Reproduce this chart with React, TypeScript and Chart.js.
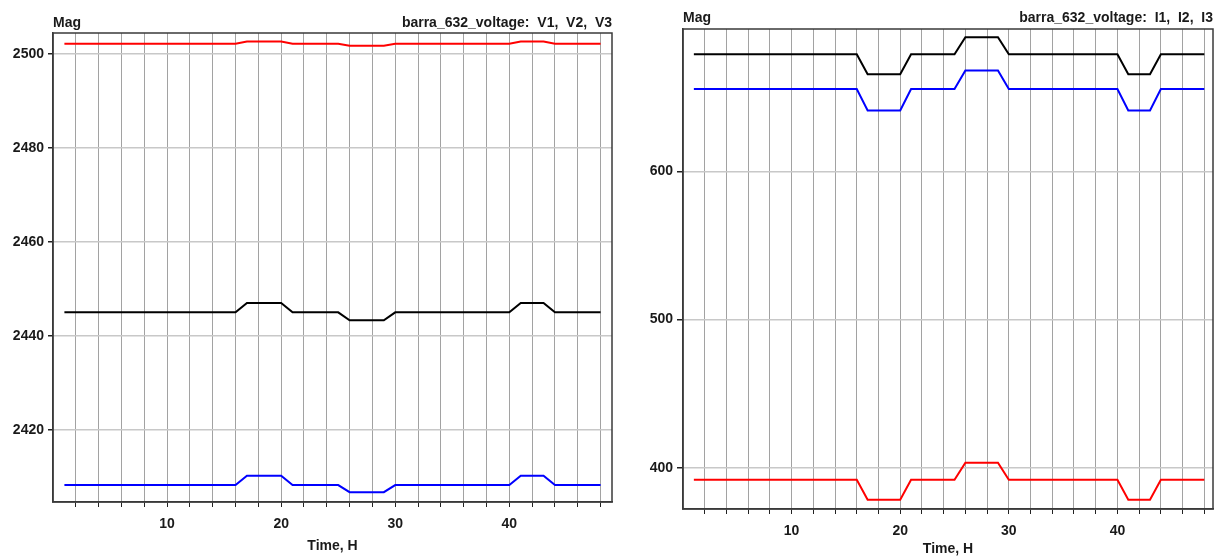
import React, { useEffect, useRef } from 'react';
import { Chart, registerables } from 'chart.js';

Chart.register(...registerables);

const hours = [1, 2, 3, 4, 5, 6, 7, 8, 9, 10, 11, 12, 13, 14, 15, 16, 17, 18, 19, 20, 21, 22, 23, 24, 25, 26, 27, 28, 29, 30, 31, 32, 33, 34, 35, 36, 37, 38, 39, 40, 41, 42, 43, 44, 45, 46, 47, 48];

// Left chart: voltages
const v1 = [2502.2, 2502.2, 2502.2, 2502.2, 2502.2, 2502.2, 2502.2, 2502.2, 2502.2, 2502.2, 2502.2, 2502.2, 2502.2, 2502.2, 2502.2, 2502.2,
  2502.7, 2502.7, 2502.7, 2502.7,
  2502.2, 2502.2, 2502.2, 2502.2, 2502.2,
  2501.8, 2501.8, 2501.8, 2501.8,
  2502.2, 2502.2, 2502.2, 2502.2, 2502.2, 2502.2, 2502.2, 2502.2, 2502.2, 2502.2, 2502.2,
  2502.7, 2502.7, 2502.7,
  2502.2, 2502.2, 2502.2, 2502.2, 2502.2];
const v2 = [2445, 2445, 2445, 2445, 2445, 2445, 2445, 2445, 2445, 2445, 2445, 2445, 2445, 2445, 2445, 2445,
  2447, 2447, 2447, 2447,
  2445, 2445, 2445, 2445, 2445,
  2443.3, 2443.3, 2443.3, 2443.3,
  2445, 2445, 2445, 2445, 2445, 2445, 2445, 2445, 2445, 2445, 2445,
  2447, 2447, 2447,
  2445, 2445, 2445, 2445, 2445];
const v3 = [2408.2, 2408.2, 2408.2, 2408.2, 2408.2, 2408.2, 2408.2, 2408.2, 2408.2, 2408.2, 2408.2, 2408.2, 2408.2, 2408.2, 2408.2, 2408.2,
  2410.2, 2410.2, 2410.2, 2410.2,
  2408.2, 2408.2, 2408.2, 2408.2, 2408.2,
  2406.7, 2406.7, 2406.7, 2406.7,
  2408.2, 2408.2, 2408.2, 2408.2, 2408.2, 2408.2, 2408.2, 2408.2, 2408.2, 2408.2, 2408.2,
  2410.2, 2410.2, 2410.2,
  2408.2, 2408.2, 2408.2, 2408.2, 2408.2];

// Right chart: currents
const i1 = [679, 679, 679, 679, 679, 679, 679, 679, 679, 679, 679, 679, 679, 679, 679, 679,
  665.5, 665.5, 665.5, 665.5,
  679, 679, 679, 679, 679,
  690.5, 690.5, 690.5, 690.5,
  679, 679, 679, 679, 679, 679, 679, 679, 679, 679, 679,
  665.5, 665.5, 665.5,
  679, 679, 679, 679, 679];
const i2 = [655.5, 655.5, 655.5, 655.5, 655.5, 655.5, 655.5, 655.5, 655.5, 655.5, 655.5, 655.5, 655.5, 655.5, 655.5, 655.5,
  641, 641, 641, 641,
  655.5, 655.5, 655.5, 655.5, 655.5,
  668, 668, 668, 668,
  655.5, 655.5, 655.5, 655.5, 655.5, 655.5, 655.5, 655.5, 655.5, 655.5, 655.5,
  641, 641, 641,
  655.5, 655.5, 655.5, 655.5, 655.5];
const i3 = [392, 392, 392, 392, 392, 392, 392, 392, 392, 392, 392, 392, 392, 392, 392, 392,
  378.5, 378.5, 378.5, 378.5,
  392, 392, 392, 392, 392,
  403.5, 403.5, 403.5, 403.5,
  392, 392, 392, 392, 392, 392, 392, 392, 392, 392, 392,
  378.5, 378.5, 378.5,
  392, 392, 392, 392, 392];

const xGridTicks = [2, 4, 6, 8, 10, 12, 14, 16, 18, 20, 22, 24, 26, 28, 30, 32, 34, 36, 38, 40, 42, 44, 46, 48];
const xLabelTicks = [10, 20, 30, 40];
const leftYTicks = [2420, 2440, 2460, 2480, 2500];
const rightYTicks = [400, 500, 600];

const FONT = '"Liberation Sans", Arial, sans-serif';
const FSIZE = 14;

const framePlugin = {
  id: 'frame',
  afterDraw(chart: any, _args: any, opts: any) {
    const { ctx, chartArea: a } = chart;
    ctx.save();
    ctx.strokeStyle = '#3a3a3a';
    ctx.lineWidth = 1.5;
    ctx.strokeRect(a.left, a.top, a.right - a.left, a.bottom - a.top);
    ctx.font = 'bold ' + FSIZE + 'px ' + FONT;
    ctx.fillStyle = '#1a1a1a';
    ctx.textBaseline = 'middle';
    ctx.textAlign = 'left';
    ctx.fillText(opts.mag, a.left, opts.headY);
    ctx.textAlign = 'right';
    ctx.fillText(opts.head, a.right + opts.headDx, opts.headY);
    ctx.restore();
  },
};

type Cfg = {
  series: { data: number[]; color: string }[];
  yMin: number;
  yMax: number;
  yTicks: number[];
  xMax: number;
  padTop: number;
  padRight: number;
  yWidth: number;
  xHeight: number;
  yTickLen: number;
  titleBottom: number;
  head: string;
  headY: number;
  headDx: number;
};

function makeChart(canvas: HTMLCanvasElement, c: Cfg) {
  return new Chart(canvas, {
    type: 'line',
    data: {
      datasets: c.series.map((s) => ({
        data: hours.map((h, i) => ({ x: h, y: s.data[i] })),
        borderColor: s.color,
        borderWidth: 2,
        pointRadius: 0,
        tension: 0,
        fill: false,
      })),
    },
    options: {
      animation: false,
      responsive: false,
      maintainAspectRatio: false,
      events: [],
      layout: { padding: { top: c.padTop, right: c.padRight, left: 0, bottom: 0 } },
      plugins: {
        legend: { display: false },
        tooltip: { enabled: false },
        frame: { mag: 'Mag', head: c.head, headY: c.headY, headDx: c.headDx },
      } as any,
      scales: {
        x: {
          type: 'linear',
          min: 0,
          max: c.xMax,
          afterBuildTicks: (scale: any) => {
            scale.ticks = xGridTicks.map((v) => ({ value: v }));
          },
          afterFit: (scale: any) => {
            scale.height = c.xHeight;
          },
          ticks: {
            autoSkip: false,
            maxRotation: 0,
            padding: 9,
            color: '#1a1a1a',
            font: { family: FONT, size: FSIZE, weight: 'bold' },
            callback: (v: any) => (xLabelTicks.includes(Number(v)) ? String(v) : ''),
          },
          grid: {
            color: '#a2a2a2',
            lineWidth: 1,
            tickColor: '#222',
            tickLength: 5,
          },
          border: { color: '#3a3a3a', width: 1.5 },
          title: {
            display: true,
            text: 'Time, H',
            color: '#1a1a1a',
            font: { family: FONT, size: FSIZE, weight: 'bold' },
            padding: { top: 2, bottom: c.titleBottom },
          },
        },
        y: {
          type: 'linear',
          min: c.yMin,
          max: c.yMax,
          afterBuildTicks: (scale: any) => {
            scale.ticks = c.yTicks.map((v) => ({ value: v }));
          },
          afterFit: (scale: any) => {
            scale.width = c.yWidth;
          },
          ticks: {
            padding: 4,
            color: '#1a1a1a',
            font: { family: FONT, size: FSIZE, weight: 'bold' },
            callback: (v: any) => String(v),
          },
          grid: {
            color: '#c8c8c8',
            lineWidth: 1.5,
            tickColor: '#222',
            tickLength: c.yTickLen,
          },
          border: { color: '#3a3a3a', width: 1.5 },
        },
      },
    } as any,
    plugins: [framePlugin],
  });
}

function ChartBox(props: { left: number; width: number; cfg: Cfg }) {
  const ref = useRef<HTMLCanvasElement>(null);
  useEffect(() => {
    if (!ref.current) return;
    const ch = makeChart(ref.current, props.cfg);
    return () => ch.destroy();
  }, []);
  return (
    <canvas
      ref={ref}
      width={props.width}
      height={556}
      style={{ position: 'absolute', left: props.left, top: 0, width: props.width, height: 556 }}
    />
  );
}

const leftCfg: Cfg = {
  series: [
    { data: v1, color: '#ff0000' },
    { data: v2, color: '#000000' },
    { data: v3, color: '#0000ff' },
  ],
  yMin: 2404.6,
  yMax: 2504.5,
  yTicks: leftYTicks,
  xMax: 49,
  padTop: 33,
  padRight: 8,
  yWidth: 53,
  xHeight: 54,
  yTickLen: 5,
  titleBottom: 1,
  head: 'barra_632_voltage:  V1,  V2,  V3',
  headY: 23,
  headDx: 0,
};

const rightCfg: Cfg = {
  series: [
    { data: i1, color: '#000000' },
    { data: i2, color: '#0000ff' },
    { data: i3, color: '#ff0000' },
  ],
  yMin: 372.3,
  yMax: 696,
  yTicks: rightYTicks,
  xMax: 48.8,
  padTop: 29,
  padRight: 5,
  yWidth: 63,
  xHeight: 47,
  yTickLen: 6,
  titleBottom: -2,
  head: 'barra_632_voltage:  I1,  I2,  I3',
  headY: 18,
  headDx: 0,
};

export default function App() {
  return (
    <div style={{ position: 'fixed', left: 0, top: 0, width: 1218, height: 556, background: '#fff', overflow: 'hidden' }}>
      <ChartBox left={0} width={620} cfg={leftCfg} />
      <ChartBox left={620} width={598} cfg={rightCfg} />
    </div>
  );
}
